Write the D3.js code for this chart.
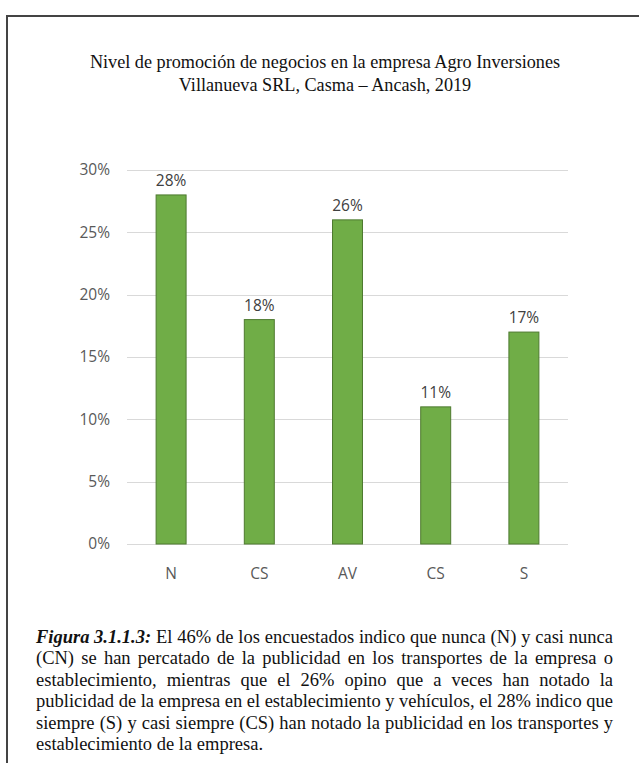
<!DOCTYPE html>
<html>
<head>
<meta charset="utf-8">
<script src="https://cdn.jsdelivr.net/npm/d3@7"></script>
<style>
  html, body { margin: 0; padding: 0; background: #fff; }
  svg { display: block; }
</style>
</head>
<body>
<svg id="chart" width="639" height="763"></svg>
<script>
// Survey categories and their share of respondents
const categories = ["N", "CS", "AV", "CS ", "S"];
const values = [0.28, 0.18, 0.26, 0.11, 0.17];
const yTicks = [0, 0.05, 0.10, 0.15, 0.20, 0.25, 0.30];

const titleLines = [
  "Nivel de promoción de negocios en la empresa Agro Inversiones",
  "Villanueva SRL, Casma – Ancash, 2019"
];

const captionLead = "Figura 3.1.1.3:";
const captionLines = [
  "El 46% de los encuestados indico que nunca (N) y casi nunca",
  "(CN) se han percatado de la publicidad en los transportes de la empresa o",
  "establecimiento, mientras que el 26% opino que a veces han notado la",
  "publicidad de la empresa en el establecimiento y vehículos, el 28% indico que",
  "siempre (S) y casi siempre (CS) han notado la publicidad en los transportes y",
  "establecimiento de la empresa."
];

const svg = d3.select("#chart");
const grey = "#595959";
const sans = "'Open Sans', 'Liberation Sans', sans-serif";
const serif = "'Liberation Serif', 'Times New Roman', serif";

// Frame lines (top and left edges of the figure box)
svg.append("line").attr("x1", 7).attr("x2", 639).attr("y1", 16).attr("y2", 16)
  .attr("stroke", "#444").attr("stroke-width", 2);
svg.append("line").attr("x1", 7).attr("x2", 7).attr("y1", 15).attr("y2", 763)
  .attr("stroke", "#444").attr("stroke-width", 2);

// Title
svg.append("g").selectAll("text").data(titleLines).join("text")
  .attr("x", 325).attr("y", (d, i) => 68 + i * 23)
  .attr("text-anchor", "middle")
  .attr("font-family", serif).attr("font-size", 18.2).attr("fill", "#111")
  .text(d => d);

// Plot area
const plot = { left: 127, right: 568, top: 170, bottom: 544 };
const x = d3.scaleBand().domain(categories).range([plot.left, plot.right]).paddingInner(0.66).paddingOuter(0.33);
const y = d3.scaleLinear().domain([0, 0.30]).range([plot.bottom, plot.top]);

// Gridlines
svg.append("g").selectAll("line").data(yTicks).join("line")
  .attr("x1", plot.left).attr("x2", plot.right)
  .attr("y1", d => Math.round(y(d)) + 0.5).attr("y2", d => Math.round(y(d)) + 0.5)
  .attr("stroke", "#d9d9d9").attr("stroke-width", 1.2);

// Y axis labels
const yAxis = d3.axisLeft(y).tickValues(yTicks).tickFormat(d3.format(".0%")).tickSize(0).tickPadding(0);
const yg = svg.append("g").attr("transform", `translate(110,0)`).call(yAxis);
yg.select(".domain").remove();
yg.selectAll("text").attr("font-family", sans).attr("font-size", 15.5).attr("fill", grey);

// Bars
svg.append("g").selectAll("rect").data(values).join("rect")
  .attr("x", (d, i) => x(categories[i]))
  .attr("y", d => y(d))
  .attr("width", x.bandwidth())
  .attr("height", d => y(0) - y(d))
  .attr("fill", "#70ad47").attr("stroke", "#4e7a30").attr("stroke-width", 1);

// Value labels
svg.append("g").selectAll("text").data(values).join("text")
  .attr("x", (d, i) => x(categories[i]) + x.bandwidth() / 2)
  .attr("y", d => y(d) - 9)
  .attr("text-anchor", "middle")
  .attr("font-family", sans).attr("font-size", 15.5).attr("fill", "#404040")
  .text(d => d3.format(".0%")(d));

// Category axis
const xAxis = d3.axisBottom(x).tickSize(0).tickPadding(0).tickFormat(d => d.trim());
const xg = svg.append("g").attr("transform", `translate(0,${plot.bottom + 35})`).call(xAxis);
xg.select(".domain").remove();
xg.selectAll("text").attr("font-family", sans).attr("font-size", 15.5).attr("fill", grey).attr("dy", 0);

// Caption: justified lines of serif text
const capLeft = 36, capRight = 613, capTop = 643, capLead = 21.4, capSize = 18.5;
const cap = svg.append("g").attr("font-family", serif).attr("font-size", capSize).attr("fill", "#111");

function measure(str, bold, italic) {
  const t = cap.append("text").attr("font-weight", bold ? "bold" : null)
    .attr("font-style", italic ? "italic" : null).text(str);
  const w = t.node().getComputedTextLength();
  t.remove();
  return w;
}

captionLines.forEach((line, li) => {
  const words = line.split(" ").map(w => ({ text: w, bold: false }));
  if (li === 0) words.unshift({ text: captionLead, bold: true });
  const widths = words.map(w => measure(w.text, w.bold, w.bold));
  const total = d3.sum(widths);
  const last = li === captionLines.length - 1;
  const normalGap = measure("a b") - measure("ab");
  const gap = last ? normalGap : (capRight - capLeft - total) / (words.length - 1);
  let cx = capLeft;
  const yy = capTop + li * capLead;
  words.forEach((w, i) => {
    cap.append("text").attr("x", cx).attr("y", yy)
      .attr("font-weight", w.bold ? "bold" : null)
      .attr("font-style", w.bold ? "italic" : null)
      .text(w.text);
    cx += widths[i] + gap;
  });
});
</script>
</body>
</html>
